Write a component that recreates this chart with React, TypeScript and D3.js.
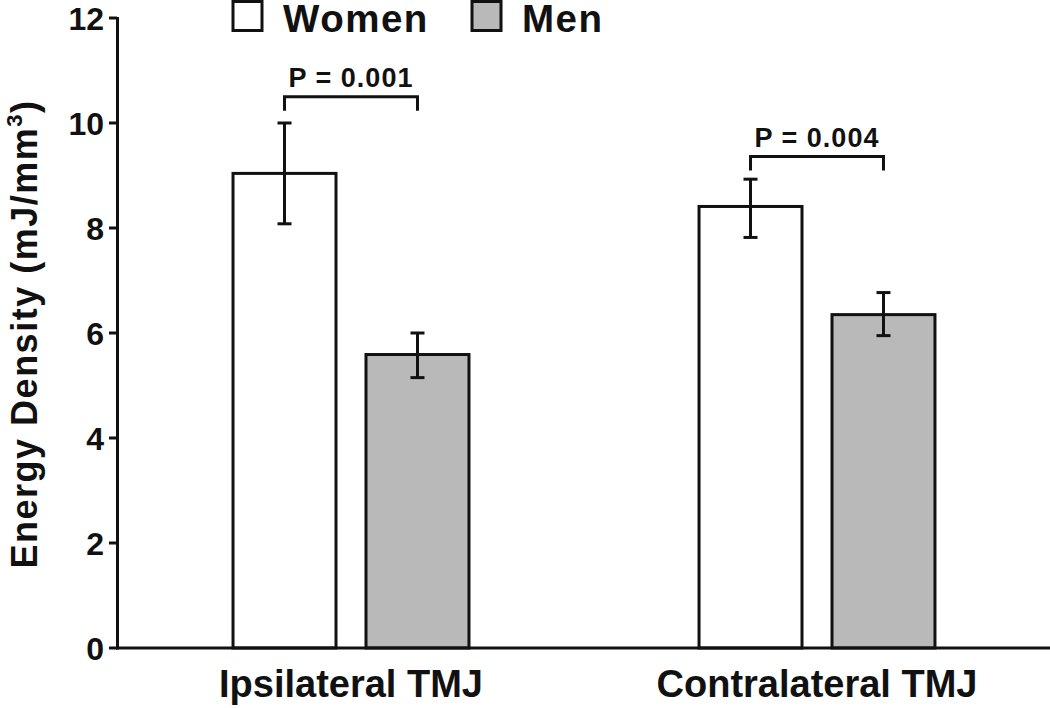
import React from "react";
import * as d3 from "d3";

const categories = ["Ipsilateral TMJ", "Contralateral TMJ"];
const seriesNames = ["Women", "Men"];
const seriesColors = ["#ffffff", "#b9b9b9"];
const womenValues = [9.04, 8.41];
const menValues = [5.59, 6.35];
const womenErrLow = [8.08, 7.82];
const womenErrHigh = [10.0, 8.93];
const menErrLow = [5.15, 5.95];
const menErrHigh = [6.0, 6.77];
const pLabels = ["P = 0.001", "P = 0.004"];
const bracketLevels = [10.5, 9.36];
const yTicks = [0, 2, 4, 6, 8, 10, 12];

const W = 1050;
const H = 708;
const FONT = "'Liberation Sans', Arial, Helvetica, sans-serif";
const INK = "#111";

export default function App() {
  const y = d3.scaleLinear().domain([0, 12]).range([648, 18]);
  const x0 = d3.scaleBand().domain(categories).range([118, 1050]).paddingInner(0).paddingOuter(0);
  const x1 = d3
    .scaleBand()
    .domain(seriesNames)
    .range([0, x0.bandwidth()])
    .paddingInner(0.2256)
    .paddingOuter(0.865);

  const values = [womenValues, menValues];
  const lows = [womenErrLow, menErrLow];
  const highs = [womenErrHigh, menErrHigh];
  const capHalf = 7;

  return (
    <svg width={W} height={H} style={{ position: "absolute", left: 0, top: 0, background: "#fff" }}>
      {/* bars */}
      {categories.map((c, ci) =>
        seriesNames.map((s, si) => {
          const bx = (x0(c) as number) + (x1(s) as number);
          const v = values[si][ci];
          return (
            <rect
              key={c + s}
              x={bx}
              y={y(v)}
              width={x1.bandwidth()}
              height={y(0) - y(v)}
              fill={seriesColors[si]}
              stroke={INK}
              strokeWidth={3}
            />
          );
        })
      )}
      {/* error bars */}
      {categories.map((c, ci) =>
        seriesNames.map((s, si) => {
          const cx = (x0(c) as number) + (x1(s) as number) + x1.bandwidth() / 2;
          const lo = y(lows[si][ci]);
          const hi = y(highs[si][ci]);
          return (
            <g key={"e" + c + s} stroke={INK} strokeWidth={3}>
              <line x1={cx} x2={cx} y1={lo} y2={hi} />
              <line x1={cx - capHalf} x2={cx + capHalf} y1={lo} y2={lo} />
              <line x1={cx - capHalf} x2={cx + capHalf} y1={hi} y2={hi} />
            </g>
          );
        })
      )}
      {/* significance brackets */}
      {categories.map((c, ci) => {
        const xa = (x0(c) as number) + (x1(seriesNames[0]) as number) + x1.bandwidth() / 2;
        const xb = (x0(c) as number) + (x1(seriesNames[1]) as number) + x1.bandwidth() / 2;
        const by = y(bracketLevels[ci]);
        return (
          <g key={"b" + c}>
            <path
              d={`M${xa},${by + 14}V${by}H${xb}V${by + 14}`}
              fill="none"
              stroke={INK}
              strokeWidth={3}
            />
            <text
              x={(xa + xb) / 2}
              y={by - 10}
              textAnchor="middle"
              fontFamily={FONT}
              fontWeight="bold"
              fontSize={27}
              letterSpacing={1}
              fill={INK}
            >
              {pLabels[ci]}
            </text>
          </g>
        );
      })}
      {/* axes */}
      <line x1={117.5} x2={117.5} y1={y(12) - 1} y2={y(0) + 1.5} stroke={INK} strokeWidth={3} />
      <line x1={116} x2={1050} y1={y(0)} y2={y(0)} stroke={INK} strokeWidth={3} />
      {yTicks.map((t) => (
        <g key={"t" + t}>
          <line x1={109} x2={117} y1={y(t)} y2={y(t)} stroke={INK} strokeWidth={3} />
          <text
            x={104}
            y={y(t)}
            dy="0.36em"
            textAnchor="end"
            fontFamily={FONT}
            fontWeight="bold"
            fontSize={32}
            fill={INK}
          >
            {t}
          </text>
        </g>
      ))}
      {categories.map((c) => (
        <text
          key={"xl" + c}
          x={(x0(c) as number) + x0.bandwidth() / 2}
          y={697}
          textAnchor="middle"
          fontFamily={FONT}
          fontWeight="bold"
          fontSize={38}
          fill={INK}
        >
          {c}
        </text>
      ))}
      {/* y label */}
      <text
        transform={`translate(37,334) rotate(-90)`}
        textAnchor="middle"
        fontFamily={FONT}
        fontWeight="bold"
        fontSize={36}
        letterSpacing={1.5}
        fill={INK}
      >
        Energy Density (mJ/mm
        <tspan fontSize={22} dy={-15}>3</tspan>
        <tspan dy={15}>)</tspan>
      </text>
      {/* legend */}
      {seriesNames.map((s, si) => {
        const lx = [233, 472][si];
        return (
          <g key={"lg" + s}>
            <rect x={lx} y={1.5} width={29} height={29} fill={seriesColors[si]} stroke={INK} strokeWidth={3} />
            <text
              x={lx + 50}
              y={31.5}
              fontFamily={FONT}
              fontWeight="bold"
              fontSize={38.5}
              letterSpacing={1.5}
              fill={INK}
            >
              {s}
            </text>
          </g>
        );
      })}
    </svg>
  );
}
